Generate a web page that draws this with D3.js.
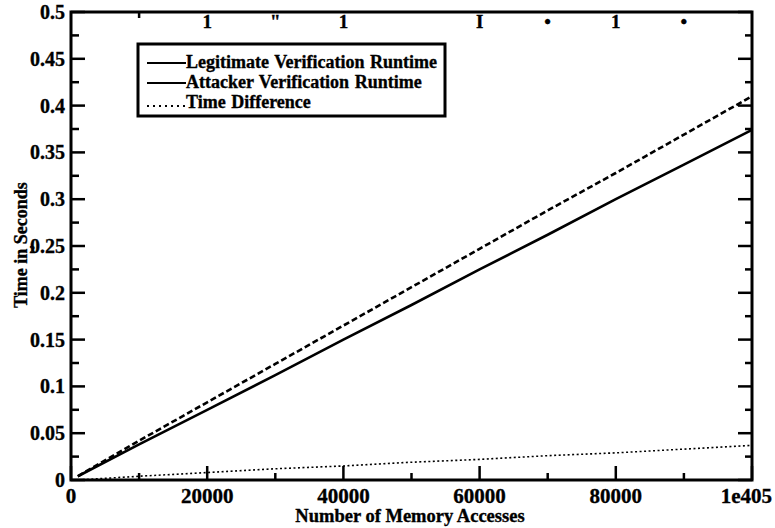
<!DOCTYPE html>
<html>
<head>
<meta charset="utf-8">
<script src="https://cdn.jsdelivr.net/npm/d3@7"></script>
<style>
  body { margin: 0; background: #fff; }
  svg { display: block; }
  text { font-family: "Liberation Serif", "DejaVu Serif", serif; font-weight: 700; stroke: #000; stroke-width: 0.35px; }
</style>
</head>
<body>
<svg id="chart" width="775" height="528"></svg>
<script>
// values
const accesses = [1000, 10000, 20000, 30000, 40000, 50000, 60000, 70000, 80000, 90000, 100000]
const legitimate = [0.004, 0.038, 0.075, 0.112, 0.150, 0.187, 0.225, 0.262, 0.300, 0.337, 0.374]
const attacker = [0.004, 0.042, 0.083, 0.124, 0.165, 0.206, 0.247, 0.288, 0.328, 0.369, 0.410]
const difference = [0.000, 0.004, 0.008, 0.012, 0.015, 0.019, 0.022, 0.026, 0.029, 0.033, 0.037]

const xTicks = [0, 20000, 40000, 60000, 80000, 100000]
const xTickLabels = ["0", "20000", "40000", "60000", "80000", "1e405"]
const yTicks = [0, 0.05, 0.1, 0.15, 0.2, 0.25, 0.3, 0.35, 0.4, 0.45, 0.5]
const yTickLabels = ["0", "0.05", "0.1", "0.15", "0.2", "0.25", "0.3", "0.35", "0.4", "0.45", "0.5"]
// scanned junk along the top edge
const topMarks = [[20000, "1"], [30000, "\""], [40000, "1"], [60000, "I"], [70000, "\u2022"], [80000, "1"], [90000, "\u2022"]]

const seriesNames = ["Legitimate Verification Runtime", "Attacker Verification Runtime", "Time Difference"]
const seriesValues = [legitimate, attacker, difference]
const plotDash = [null, "6,3", "2,2.5"]
const legendDash = [null, null, "2,4"]

const svg = d3.select("#chart")
const mLeft = 71, mRight = 752, mTop = 12, mBottom = 480

const x = d3.scaleLinear().domain([0, 100000]).range([mLeft, mRight])
const y = d3.scaleLinear().domain([0, 0.5]).range([mBottom, mTop])

const xMinor = d3.range(10000, 100000, 20000)
const yMinor = d3.range(0.025, 0.5, 0.05)

// ticks pointing inward
const ticks = svg.append("g").attr("stroke", "#000").attr("stroke-width", 2.5)
yTicks.forEach(v => {
    ticks.append("line").attr("x1", mLeft).attr("x2", mLeft + 14).attr("y1", y(v)).attr("y2", y(v))
    ticks.append("line").attr("x1", mRight).attr("x2", mRight - 14).attr("y1", y(v)).attr("y2", y(v))
})
yMinor.forEach(v => {
    ticks.append("line").attr("x1", mLeft).attr("x2", mLeft + 8).attr("y1", y(v)).attr("y2", y(v))
    ticks.append("line").attr("x1", mRight).attr("x2", mRight - 7).attr("y1", y(v)).attr("y2", y(v))
})
xTicks.forEach(v => {
    ticks.append("line").attr("x1", x(v)).attr("x2", x(v)).attr("y1", mBottom).attr("y2", mBottom - 14)
})
xMinor.forEach(v => {
    ticks.append("line").attr("x1", x(v)).attr("x2", x(v)).attr("y1", mBottom).attr("y2", mBottom - 7)
})
ticks.append("line").attr("x1", x(10000)).attr("x2", x(10000)).attr("y1", mTop).attr("y2", mTop + 6)

// frame
svg.append("rect")
    .attr("x", mLeft).attr("y", mTop)
    .attr("width", mRight - mLeft).attr("height", mBottom - mTop)
    .attr("fill", "none").attr("stroke", "#000").attr("stroke-width", 3)

// tick labels
svg.append("g").selectAll("text")
    .data(yTicks)
    .join("text")
    .attr("x", mLeft - 6)
    .attr("y", d => y(d) + 7)
    .attr("text-anchor", "end")
    .attr("font-size", 20)
    .text((d, i) => yTickLabels[i])

// last label sits flush with the right edge
svg.append("g").selectAll("text")
    .data(xTicks)
    .join("text")
    .attr("x", (d, i) => i == xTicks.length - 1 ? 772 : x(d))
    .attr("y", 503)
    .attr("text-anchor", (d, i) => i == xTicks.length - 1 ? "end" : "middle")
    .attr("font-size", 21)
    .text((d, i) => xTickLabels[i])

svg.append("g").selectAll("text")
    .data(topMarks)
    .join("text")
    .attr("x", d => x(d[0]))
    .attr("y", 28)
    .attr("text-anchor", "middle")
    .attr("font-size", 19)
    .text(d => d[1])

// axis titles
svg.append("text")
    .attr("x", 410).attr("y", 522)
    .attr("text-anchor", "middle")
    .attr("font-size", 18.5)
    .text("Number of Memory Accesses")

svg.append("text")
    .attr("transform", "translate(27,245) rotate(-90)")
    .attr("text-anchor", "middle")
    .attr("font-size", 18)
    .text("Time in Seconds")

svg.append("text")
    .attr("x", 35).attr("y", 253)
    .attr("text-anchor", "end")
    .attr("font-size", 11)
    .text("2")

// series
const line = d3.line()
    .x((d, i) => x(accesses[i]))
    .y(d => y(d))

svg.append("g").selectAll("path")
    .data(seriesValues)
    .join("path")
    .attr("d", line)
    .attr("fill", "none")
    .attr("stroke", "#000")
    .attr("stroke-width", (d, i) => i == 2 ? 1.6 : 2.6)
    .attr("stroke-dasharray", (d, i) => plotDash[i])

// legend
const legend = svg.append("g")
legend.append("rect")
    .attr("x", 138).attr("y", 44)
    .attr("width", 307).attr("height", 72)
    .attr("fill", "#fff").attr("stroke", "#000").attr("stroke-width", 3)

const rowY = [63, 83, 106]
seriesNames.forEach((name, i) => {
    legend.append("line")
        .attr("x1", 147).attr("x2", 186)
        .attr("y1", rowY[i]).attr("y2", rowY[i])
        .attr("stroke", "#000")
        .attr("stroke-width", i == 2 ? 2 : 2.2)
        .attr("stroke-dasharray", legendDash[i])
    legend.append("text")
        .attr("x", 186).attr("y", rowY[i] + (i == 2 ? 2 : 5))
        .attr("font-size", 18)
        .attr("word-spacing", 1)
        .text(name)
})
</script>
</body>
</html>
